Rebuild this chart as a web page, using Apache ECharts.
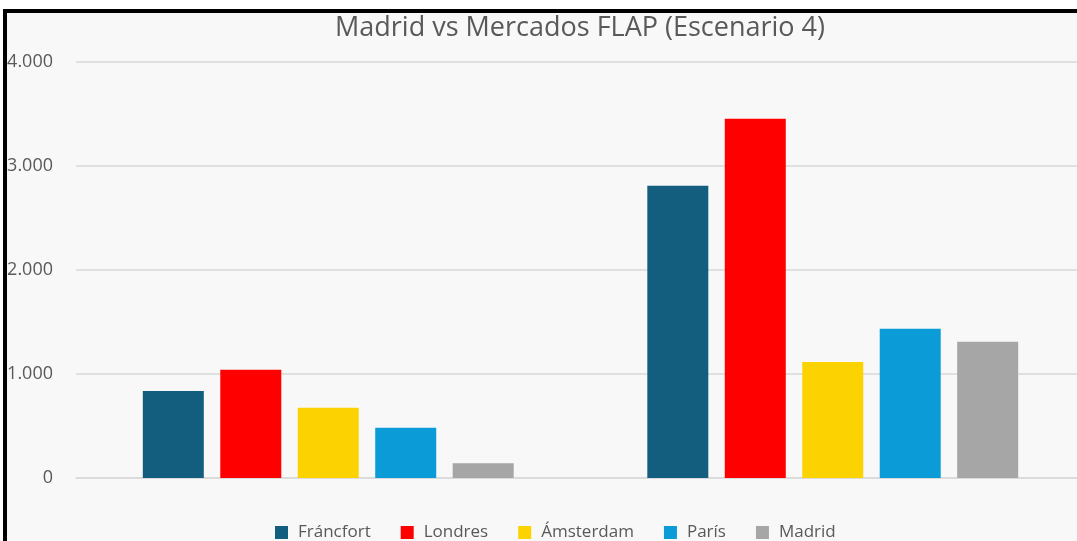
<!DOCTYPE html>
<html>
<head>
    <meta charset="utf-8">
    <title>Madrid vs Mercados FLAP</title>
    <script src="https://cdn.jsdelivr.net/npm/echarts@6/dist/echarts.min.js"></script>
</head>
<body style="margin:0;background:#fff;overflow:hidden;">
    <!-- the plot runs past the right edge in the original, so the canvas is a bit wider than the window -->
    <div id="c" style="width:1100px;height:541px;"></div>
    <script>
    // two groups, no axis labels shown in the original
    var categories = ['Grupo 1', 'Grupo 2'];
    var cities = ['Fráncfort', 'Londres', 'Ámsterdam', 'París', 'Madrid'];
    var colors = ['#135e7e', '#ff0000', '#fcd300', '#0b9bd6', '#a6a6a6'];

    var frankfurt = [837, 2810];
    var london = [1040, 3455];
    var amsterdam = [675, 1115];
    var paris = [482, 1435];
    var madrid = [143, 1310];
    var values = [frankfurt, london, amsterdam, paris, madrid];

    var yTicks = [0, 1000, 2000, 3000, 4000];

    var myChart = echarts.init(document.getElementById('c'));

    var series = cities.map(function (name, i) {
        return {
            name: name,
            type: 'bar',
            data: values[i],
            barWidth: 61,
            barGap: '27%',
            itemStyle: { color: colors[i] }
        };
    });

    var option = {
        backgroundColor: '#ffffff',
        animation: false,
        color: colors,
        graphic: [{
            type: 'rect',
            z: -10,
            silent: true,
            shape: { x: 5, y: 11, width: 1120, height: 600 },
            style: { fill: '#f8f8f8', stroke: '#000', lineWidth: 4 }
        }],
        title: {
            text: 'Madrid vs Mercados FLAP (Escenario 4)',
            left: 575,
            textAlign: 'center',
            top: 10,
            textStyle: {
                fontFamily: 'Open Sans',
                fontSize: 27,
                fontWeight: 'normal',
                color: '#595959'
            }
        },
        legend: {
            left: 270,
            top: 519,
            itemWidth: 13,
            itemHeight: 13,
            itemGap: 30,
            icon: 'rect',
            textStyle: {
                fontFamily: 'Open Sans',
                fontSize: 17,
                color: '#595959',
                padding: [0, 0, 0, 5]
            }
        },
        grid: { left: 76, right: 15, top: 62, bottom: 63, containLabel: false },
        xAxis: {
            type: 'category',
            data: categories,
            axisLine: { lineStyle: { color: '#d9d9d9', width: 1.5 } },
            axisTick: { show: false },
            axisLabel: { show: false }
        },
        yAxis: {
            type: 'value',
            min: yTicks[0],
            max: yTicks[yTicks.length - 1],
            interval: 1000,
            axisLine: { show: false },
            axisTick: { show: false },
            splitLine: { lineStyle: { color: '#d9d9d9', width: 1.5 } },
            axisLabel: {
                margin: 23,
                fontFamily: 'Open Sans',
                fontSize: 18,
                color: '#595959',
                formatter: function (v) {
                    return v === 0 ? '0' : (v / 1000) + '.000';
                }
            }
        },
        series: series
    };
    myChart.setOption(option);
    </script>
</body>
</html>
